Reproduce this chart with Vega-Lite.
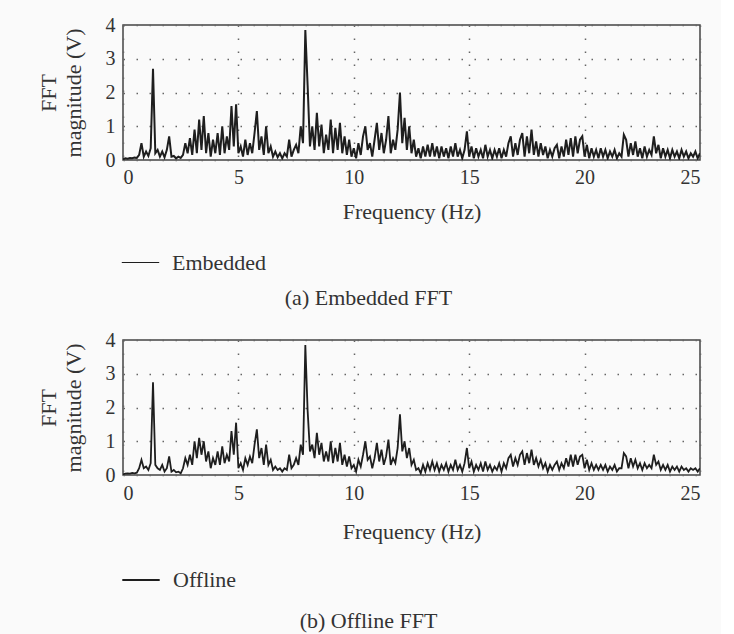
{
  "$schema": "https://vega.github.io/schema/vega-lite/v6.json",
  "background": "#fafafa",
  "padding": {"left": 36, "top": 14, "right": 20, "bottom": 2},
  "spacing": 19,
  "config": {
    "font": "Liberation Serif",
    "view": {"stroke": "#444", "strokeWidth": 1.5},
    "axis": {
      "domain": false,
      "ticks": false,
      "grid": true,
      "gridColor": "#666",
      "gridDash": [1.5, 11.5],
      "gridWidth": 1.5,
      "labelFont": "Liberation Serif",
      "labelFontSize": 20,
      "labelColor": "#333",
      "titleFont": "Liberation Serif",
      "titleFontSize": 22,
      "titleFontWeight": "normal",
      "titleColor": "#333"
    },
    "legend": {
      "labelFont": "Liberation Serif",
      "labelFontSize": 22,
      "labelColor": "#333",
      "symbolType": "stroke",
      "symbolSize": 1400,
      "labelOffset": 12
    },
    "title": {"font": "Liberation Serif", "fontSize": 22, "fontWeight": "normal", "color": "#333"}
  },
  "datasets": {
    "emb": [
      {"f":0.0,"m":0.02},{"f":0.1,"m":0.05},{"f":0.2,"m":0.04},{"f":0.3,"m":0.06},{"f":0.4,"m":0.05},{"f":0.5,"m":0.07},{"f":0.6,"m":0.06},{"f":0.7,"m":0.15},{"f":0.8,"m":0.5},{"f":0.9,"m":0.1},
      {"f":1.0,"m":0.25},{"f":1.1,"m":0.12},{"f":1.2,"m":0.35},{"f":1.3,"m":2.7},{"f":1.4,"m":0.2},{"f":1.5,"m":0.3},{"f":1.6,"m":0.1},{"f":1.7,"m":0.25},{"f":1.8,"m":0.08},{"f":1.9,"m":0.3},
      {"f":2.0,"m":0.7},{"f":2.1,"m":0.1},{"f":2.2,"m":0.12},{"f":2.3,"m":0.05},{"f":2.4,"m":0.1},{"f":2.5,"m":0.06},{"f":2.6,"m":0.15},{"f":2.7,"m":0.5},{"f":2.8,"m":0.2},{"f":2.9,"m":0.65},
      {"f":3.0,"m":0.15},{"f":3.1,"m":0.9},{"f":3.2,"m":0.2},{"f":3.3,"m":1.2},{"f":3.4,"m":0.3},{"f":3.5,"m":1.3},{"f":3.6,"m":0.2},{"f":3.7,"m":0.8},{"f":3.8,"m":0.1},{"f":3.9,"m":0.6},
      {"f":4.0,"m":0.2},{"f":4.1,"m":0.8},{"f":4.2,"m":0.15},{"f":4.3,"m":1.0},{"f":4.4,"m":0.2},{"f":4.5,"m":0.7},{"f":4.6,"m":0.3},{"f":4.7,"m":1.6},{"f":4.8,"m":0.4},{"f":4.9,"m":1.65},
      {"f":5.0,"m":0.2},{"f":5.1,"m":0.4},{"f":5.2,"m":0.1},{"f":5.3,"m":0.6},{"f":5.4,"m":0.15},{"f":5.5,"m":0.5},{"f":5.6,"m":0.2},{"f":5.7,"m":0.8},{"f":5.8,"m":1.45},{"f":5.9,"m":0.3},
      {"f":6.0,"m":0.7},{"f":6.1,"m":0.15},{"f":6.2,"m":1.0},{"f":6.3,"m":0.2},{"f":6.4,"m":0.4},{"f":6.5,"m":0.1},{"f":6.6,"m":0.25},{"f":6.7,"m":0.08},{"f":6.8,"m":0.2},{"f":6.9,"m":0.05},
      {"f":7.0,"m":0.2},{"f":7.1,"m":0.1},{"f":7.2,"m":0.6},{"f":7.3,"m":0.1},{"f":7.4,"m":0.3},{"f":7.5,"m":0.45},{"f":7.6,"m":0.2},{"f":7.7,"m":1.0},{"f":7.8,"m":0.5},{"f":7.9,"m":3.85},
      {"f":8.0,"m":2.2},{"f":8.1,"m":0.4},{"f":8.2,"m":1.0},{"f":8.3,"m":0.3},{"f":8.4,"m":1.4},{"f":8.5,"m":0.4},{"f":8.6,"m":1.05},{"f":8.7,"m":0.2},{"f":8.8,"m":0.75},{"f":8.9,"m":0.3},
      {"f":9.0,"m":1.2},{"f":9.1,"m":0.2},{"f":9.2,"m":0.95},{"f":9.3,"m":0.3},{"f":9.4,"m":1.1},{"f":9.5,"m":0.2},{"f":9.6,"m":0.7},{"f":9.7,"m":0.15},{"f":9.8,"m":0.6},{"f":9.9,"m":0.1},
      {"f":10.0,"m":0.35},{"f":10.1,"m":0.05},{"f":10.2,"m":0.5},{"f":10.3,"m":0.15},{"f":10.4,"m":0.7},{"f":10.5,"m":1.0},{"f":10.6,"m":0.3},{"f":10.7,"m":0.5},{"f":10.8,"m":0.1},{"f":10.9,"m":0.6},
      {"f":11.0,"m":1.1},{"f":11.1,"m":0.3},{"f":11.2,"m":0.8},{"f":11.3,"m":0.2},{"f":11.4,"m":0.6},{"f":11.5,"m":1.3},{"f":11.6,"m":0.2},{"f":11.7,"m":0.6},{"f":11.8,"m":0.3},{"f":11.9,"m":0.9},
      {"f":12.0,"m":2.0},{"f":12.1,"m":0.5},{"f":12.2,"m":1.25},{"f":12.3,"m":0.3},{"f":12.4,"m":1.0},{"f":12.5,"m":0.2},{"f":12.6,"m":0.6},{"f":12.7,"m":0.1},{"f":12.8,"m":0.35},{"f":12.9,"m":0.05},
      {"f":13.0,"m":0.4},{"f":13.1,"m":0.1},{"f":13.2,"m":0.45},{"f":13.3,"m":0.1},{"f":13.4,"m":0.5},{"f":13.5,"m":0.1},{"f":13.6,"m":0.4},{"f":13.7,"m":0.05},{"f":13.8,"m":0.4},{"f":13.9,"m":0.1},
      {"f":14.0,"m":0.35},{"f":14.1,"m":0.05},{"f":14.2,"m":0.4},{"f":14.3,"m":0.1},{"f":14.4,"m":0.5},{"f":14.5,"m":0.1},{"f":14.6,"m":0.3},{"f":14.7,"m":0.05},{"f":14.8,"m":0.3},{"f":14.9,"m":0.85},
      {"f":15.0,"m":0.1},{"f":15.1,"m":0.4},{"f":15.2,"m":0.05},{"f":15.3,"m":0.35},{"f":15.4,"m":0.1},{"f":15.5,"m":0.3},{"f":15.6,"m":0.05},{"f":15.7,"m":0.45},{"f":15.8,"m":0.1},{"f":15.9,"m":0.3},
      {"f":16.0,"m":0.05},{"f":16.1,"m":0.3},{"f":16.2,"m":0.1},{"f":16.3,"m":0.35},{"f":16.4,"m":0.05},{"f":16.5,"m":0.3},{"f":16.6,"m":0.1},{"f":16.7,"m":0.5},{"f":16.8,"m":0.7},{"f":16.9,"m":0.1},
      {"f":17.0,"m":0.5},{"f":17.1,"m":0.15},{"f":17.2,"m":0.6},{"f":17.3,"m":0.8},{"f":17.4,"m":0.1},{"f":17.5,"m":0.7},{"f":17.6,"m":0.2},{"f":17.7,"m":0.9},{"f":17.8,"m":0.15},{"f":17.9,"m":0.55},
      {"f":18.0,"m":0.1},{"f":18.1,"m":0.5},{"f":18.2,"m":0.15},{"f":18.3,"m":0.4},{"f":18.4,"m":0.05},{"f":18.5,"m":0.3},{"f":18.6,"m":0.1},{"f":18.7,"m":0.35},{"f":18.8,"m":0.45},{"f":18.9,"m":0.05},
      {"f":19.0,"m":0.4},{"f":19.1,"m":0.1},{"f":19.2,"m":0.6},{"f":19.3,"m":0.15},{"f":19.4,"m":0.65},{"f":19.5,"m":0.1},{"f":19.6,"m":0.7},{"f":19.7,"m":0.2},{"f":19.8,"m":0.6},{"f":19.9,"m":0.7},
      {"f":20.0,"m":0.1},{"f":20.1,"m":0.45},{"f":20.2,"m":0.05},{"f":20.3,"m":0.35},{"f":20.4,"m":0.1},{"f":20.5,"m":0.3},{"f":20.6,"m":0.05},{"f":20.7,"m":0.35},{"f":20.8,"m":0.1},{"f":20.9,"m":0.3},
      {"f":21.0,"m":0.05},{"f":21.1,"m":0.25},{"f":21.2,"m":0.1},{"f":21.3,"m":0.3},{"f":21.4,"m":0.05},{"f":21.5,"m":0.2},{"f":21.6,"m":0.1},{"f":21.7,"m":0.75},{"f":21.8,"m":0.6},{"f":21.9,"m":0.1},
      {"f":22.0,"m":0.5},{"f":22.1,"m":0.15},{"f":22.2,"m":0.55},{"f":22.3,"m":0.1},{"f":22.4,"m":0.35},{"f":22.5,"m":0.05},{"f":22.6,"m":0.4},{"f":22.7,"m":0.1},{"f":22.8,"m":0.3},{"f":22.9,"m":0.15},
      {"f":23.0,"m":0.7},{"f":23.1,"m":0.2},{"f":23.2,"m":0.45},{"f":23.3,"m":0.05},{"f":23.4,"m":0.35},{"f":23.5,"m":0.1},{"f":23.6,"m":0.3},{"f":23.7,"m":0.05},{"f":23.8,"m":0.3},{"f":23.9,"m":0.1},
      {"f":24.0,"m":0.25},{"f":24.1,"m":0.05},{"f":24.2,"m":0.3},{"f":24.3,"m":0.1},{"f":24.4,"m":0.25},{"f":24.5,"m":0.05},{"f":24.6,"m":0.2},{"f":24.7,"m":0.1},{"f":24.8,"m":0.25},{"f":24.9,"m":0.05},
      {"f":25.0,"m":0.2}
    ],
    "off": [
      {"f":0.0,"m":0.02},{"f":0.1,"m":0.04},{"f":0.2,"m":0.05},{"f":0.3,"m":0.04},{"f":0.4,"m":0.06},{"f":0.5,"m":0.05},{"f":0.6,"m":0.07},{"f":0.7,"m":0.2},{"f":0.8,"m":0.45},{"f":0.9,"m":0.2},
      {"f":1.0,"m":0.25},{"f":1.1,"m":0.15},{"f":1.2,"m":0.35},{"f":1.3,"m":2.75},{"f":1.4,"m":0.3},{"f":1.5,"m":0.2},{"f":1.6,"m":0.15},{"f":1.7,"m":0.3},{"f":1.8,"m":0.1},{"f":1.9,"m":0.2},
      {"f":2.0,"m":0.55},{"f":2.1,"m":0.1},{"f":2.2,"m":0.15},{"f":2.3,"m":0.08},{"f":2.4,"m":0.1},{"f":2.5,"m":0.05},{"f":2.6,"m":0.2},{"f":2.7,"m":0.5},{"f":2.8,"m":0.3},{"f":2.9,"m":0.6},
      {"f":3.0,"m":0.3},{"f":3.1,"m":1.0},{"f":3.2,"m":0.5},{"f":3.3,"m":1.1},{"f":3.4,"m":0.6},{"f":3.5,"m":1.0},{"f":3.6,"m":0.4},{"f":3.7,"m":0.7},{"f":3.8,"m":0.2},{"f":3.9,"m":0.5},
      {"f":4.0,"m":0.3},{"f":4.1,"m":0.7},{"f":4.2,"m":0.3},{"f":4.3,"m":0.85},{"f":4.4,"m":0.35},{"f":4.5,"m":0.6},{"f":4.6,"m":0.4},{"f":4.7,"m":1.3},{"f":4.8,"m":0.6},{"f":4.9,"m":1.55},
      {"f":5.0,"m":0.2},{"f":5.1,"m":0.35},{"f":5.2,"m":0.15},{"f":5.3,"m":0.5},{"f":5.4,"m":0.3},{"f":5.5,"m":0.55},{"f":5.6,"m":0.35},{"f":5.7,"m":0.9},{"f":5.8,"m":1.35},{"f":5.9,"m":0.5},
      {"f":6.0,"m":0.8},{"f":6.1,"m":0.3},{"f":6.2,"m":0.9},{"f":6.3,"m":0.3},{"f":6.4,"m":0.45},{"f":6.5,"m":0.15},{"f":6.6,"m":0.25},{"f":6.7,"m":0.15},{"f":6.8,"m":0.2},{"f":6.9,"m":0.1},
      {"f":7.0,"m":0.2},{"f":7.1,"m":0.15},{"f":7.2,"m":0.6},{"f":7.3,"m":0.2},{"f":7.4,"m":0.3},{"f":7.5,"m":0.5},{"f":7.6,"m":0.3},{"f":7.7,"m":0.9},{"f":7.8,"m":0.6},{"f":7.9,"m":3.85},
      {"f":8.0,"m":1.9},{"f":8.1,"m":0.7},{"f":8.2,"m":0.9},{"f":8.3,"m":0.5},{"f":8.4,"m":1.25},{"f":8.5,"m":0.6},{"f":8.6,"m":0.95},{"f":8.7,"m":0.4},{"f":8.8,"m":0.7},{"f":8.9,"m":0.4},
      {"f":9.0,"m":1.0},{"f":9.1,"m":0.35},{"f":9.2,"m":0.8},{"f":9.3,"m":0.4},{"f":9.4,"m":0.95},{"f":9.5,"m":0.3},{"f":9.6,"m":0.6},{"f":9.7,"m":0.25},{"f":9.8,"m":0.55},{"f":9.9,"m":0.2},
      {"f":10.0,"m":0.3},{"f":10.1,"m":0.1},{"f":10.2,"m":0.45},{"f":10.3,"m":0.25},{"f":10.4,"m":0.6},{"f":10.5,"m":1.0},{"f":10.6,"m":0.45},{"f":10.7,"m":0.55},{"f":10.8,"m":0.2},{"f":10.9,"m":0.5},
      {"f":11.0,"m":0.95},{"f":11.1,"m":0.4},{"f":11.2,"m":0.75},{"f":11.3,"m":0.3},{"f":11.4,"m":0.55},{"f":11.5,"m":1.05},{"f":11.6,"m":0.3},{"f":11.7,"m":0.5},{"f":11.8,"m":0.35},{"f":11.9,"m":0.8},
      {"f":12.0,"m":1.8},{"f":12.1,"m":0.7},{"f":12.2,"m":1.0},{"f":12.3,"m":0.5},{"f":12.4,"m":0.8},{"f":12.5,"m":0.3},{"f":12.6,"m":0.45},{"f":12.7,"m":0.15},{"f":12.8,"m":0.2},{"f":12.9,"m":0.05},
      {"f":13.0,"m":0.3},{"f":13.1,"m":0.1},{"f":13.2,"m":0.35},{"f":13.3,"m":0.15},{"f":13.4,"m":0.4},{"f":13.5,"m":0.15},{"f":13.6,"m":0.35},{"f":13.7,"m":0.1},{"f":13.8,"m":0.3},{"f":13.9,"m":0.15},
      {"f":14.0,"m":0.35},{"f":14.1,"m":0.1},{"f":14.2,"m":0.3},{"f":14.3,"m":0.15},{"f":14.4,"m":0.45},{"f":14.5,"m":0.15},{"f":14.6,"m":0.3},{"f":14.7,"m":0.1},{"f":14.8,"m":0.35},{"f":14.9,"m":0.8},
      {"f":15.0,"m":0.2},{"f":15.1,"m":0.4},{"f":15.2,"m":0.1},{"f":15.3,"m":0.3},{"f":15.4,"m":0.15},{"f":15.5,"m":0.35},{"f":15.6,"m":0.1},{"f":15.7,"m":0.4},{"f":15.8,"m":0.15},{"f":15.9,"m":0.3},
      {"f":16.0,"m":0.1},{"f":16.1,"m":0.25},{"f":16.2,"m":0.15},{"f":16.3,"m":0.35},{"f":16.4,"m":0.1},{"f":16.5,"m":0.35},{"f":16.6,"m":0.2},{"f":16.7,"m":0.5},{"f":16.8,"m":0.6},{"f":16.9,"m":0.25},
      {"f":17.0,"m":0.5},{"f":17.1,"m":0.3},{"f":17.2,"m":0.6},{"f":17.3,"m":0.7},{"f":17.4,"m":0.3},{"f":17.5,"m":0.65},{"f":17.6,"m":0.35},{"f":17.7,"m":0.75},{"f":17.8,"m":0.3},{"f":17.9,"m":0.5},
      {"f":18.0,"m":0.25},{"f":18.1,"m":0.45},{"f":18.2,"m":0.2},{"f":18.3,"m":0.35},{"f":18.4,"m":0.1},{"f":18.5,"m":0.3},{"f":18.6,"m":0.15},{"f":18.7,"m":0.3},{"f":18.8,"m":0.4},{"f":18.9,"m":0.15},
      {"f":19.0,"m":0.35},{"f":19.1,"m":0.2},{"f":19.2,"m":0.5},{"f":19.3,"m":0.25},{"f":19.4,"m":0.6},{"f":19.5,"m":0.25},{"f":19.6,"m":0.6},{"f":19.7,"m":0.3},{"f":19.8,"m":0.55},{"f":19.9,"m":0.6},
      {"f":20.0,"m":0.2},{"f":20.1,"m":0.45},{"f":20.2,"m":0.15},{"f":20.3,"m":0.35},{"f":20.4,"m":0.15},{"f":20.5,"m":0.3},{"f":20.6,"m":0.15},{"f":20.7,"m":0.3},{"f":20.8,"m":0.15},{"f":20.9,"m":0.3},
      {"f":21.0,"m":0.1},{"f":21.1,"m":0.25},{"f":21.2,"m":0.15},{"f":21.3,"m":0.3},{"f":21.4,"m":0.1},{"f":21.5,"m":0.2},{"f":21.6,"m":0.2},{"f":21.7,"m":0.65},{"f":21.8,"m":0.55},{"f":21.9,"m":0.2},
      {"f":22.0,"m":0.5},{"f":22.1,"m":0.25},{"f":22.2,"m":0.45},{"f":22.3,"m":0.2},{"f":22.4,"m":0.35},{"f":22.5,"m":0.15},{"f":22.6,"m":0.35},{"f":22.7,"m":0.2},{"f":22.8,"m":0.3},{"f":22.9,"m":0.2},
      {"f":23.0,"m":0.6},{"f":23.1,"m":0.3},{"f":23.2,"m":0.4},{"f":23.3,"m":0.15},{"f":23.4,"m":0.3},{"f":23.5,"m":0.15},{"f":23.6,"m":0.3},{"f":23.7,"m":0.1},{"f":23.8,"m":0.25},{"f":23.9,"m":0.15},
      {"f":24.0,"m":0.25},{"f":24.1,"m":0.1},{"f":24.2,"m":0.25},{"f":24.3,"m":0.15},{"f":24.4,"m":0.2},{"f":24.5,"m":0.1},{"f":24.6,"m":0.2},{"f":24.7,"m":0.15},{"f":24.8,"m":0.2},{"f":24.9,"m":0.1},
      {"f":25.0,"m":0.2}
    ]
  },
  "resolve": {"scale": {"color": "independent"}, "legend": {"color": "independent"}},
  "vconcat": [
    {
      "width": 577,
      "height": 135,
      "data": {"name": "emb"},
      "title": {"text": "(a) Embedded FFT", "orient": "bottom", "anchor": "middle", "frame": "bounds", "offset": 14},
      "mark": {"type": "line", "strokeWidth": 2, "clip": true},
      "encoding": {
        "x": {"field": "f", "type": "quantitative", "scale": {"domain": [0, 25], "nice": false},
              "axis": {"values": [0, 5, 10, 15, 20, 25], "title": "Frequency (Hz)", "labelPadding": 7, "titlePadding": 14}},
        "y": {"field": "m", "type": "quantitative", "scale": {"domain": [0, 4], "nice": false},
              "axis": {"values": [0, 1, 2, 3, 4], "title": ["FFT", "magnitude (V)"], "labelPadding": 8, "titlePadding": 20, "titleLineHeight": 25}},
        "color": {"datum": "Embedded", "type": "nominal", "scale": {"range": ["#1e1e1e"]},
                  "legend": {"title": null, "orient": "none", "legendX": -2, "legendY": 218, "symbolStrokeWidth": 1}}
      }
    },
    {
      "width": 577,
      "height": 135,
      "data": {"name": "off"},
      "title": {"text": "(b) Offline FFT", "orient": "bottom", "anchor": "middle", "frame": "bounds", "offset": 20},
      "mark": {"type": "line", "strokeWidth": 1.8, "clip": true},
      "encoding": {
        "x": {"field": "f", "type": "quantitative", "scale": {"domain": [0, 25], "nice": false},
              "axis": {"values": [0, 5, 10, 15, 20, 25], "title": "Frequency (Hz)", "labelPadding": 8, "titlePadding": 18}},
        "y": {"field": "m", "type": "quantitative", "scale": {"domain": [0, 4], "nice": false},
              "axis": {"values": [0, 1, 2, 3, 4], "title": ["FFT", "magnitude (V)"], "labelPadding": 8, "titlePadding": 20, "titleLineHeight": 25}},
        "color": {"datum": "Offline", "type": "nominal", "scale": {"range": ["#1e1e1e"]},
                  "legend": {"title": null, "orient": "none", "legendX": -2, "legendY": 220, "symbolStrokeWidth": 2.2}}
      }
    }
  ]
}
